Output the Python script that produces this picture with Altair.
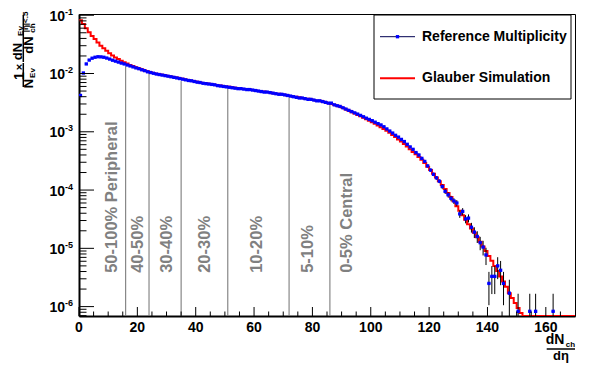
import altair as alt
import pandas as pd
import numpy as np

# ---------------- data ----------------
YMIN, YMAX = 6.9e-7, 0.105
XMIN, XMAX = 0, 170
NEV = 1.2e6  # events: one count = 8.3e-7

# Reference multiplicity, bins of width 1 starting at 0 (0 = empty bin)
blue_vals = [
    0.0042, 0.0102, 0.0146, 0.0170, 0.0183, 0.0190, 0.0194, 0.0193, 0.0190, 0.0184,
    0.0177, 0.0169, 0.0163, 0.0157, 0.0151, 0.0146, 0.0140, 0.0135, 0.0130, 0.0125,
    0.0121, 0.0116, 0.0112, 0.0107, 0.0104, 0.0101, 0.0098, 0.0096, 0.0094, 0.0092,
    0.0090, 0.0088, 0.0086, 0.0084, 0.0082, 0.0080, 0.0078, 0.0076, 0.0075, 0.0073,
    0.0071, 0.0070, 0.0068, 0.0067, 0.0066, 0.0065, 0.0064, 0.0062, 0.0061, 0.0060,
    0.0059, 0.0058, 0.0057, 0.0056, 0.0055, 0.0055, 0.0054, 0.0053, 0.0053, 0.0052,
    0.0051, 0.0050, 0.0049, 0.0048, 0.0048, 0.0047, 0.0046, 0.0045, 0.0044, 0.0044,
    0.0043, 0.0042, 0.0041, 0.0040, 0.0039, 0.0038, 0.0038, 0.0037, 0.0036, 0.0036,
    0.0035, 0.0034, 0.0034, 0.0033, 0.0032, 0.0031, 0.0031, 0.0029, 0.0028, 0.00272,
    0.00258, 0.00245, 0.00233, 0.00222, 0.00211, 0.00201, 0.00191, 0.00181, 0.00171, 0.00163,
    0.00155, 0.00146, 0.00138, 0.00131, 0.00122, 0.00112, 0.00103, 0.00095, 0.00087, 0.00081,
    0.00074, 0.00068, 0.00061, 0.00055, 0.00050, 0.00044, 0.00040, 0.00035, 0.00031, 0.00026,
    0.00022, 0.000186, 0.000162, 0.000142, 0.000115, 0.000095, 8.3e-5, 7.2e-5, 6.5e-5, 6.0e-5,
    3.9e-5, 4.3e-5, 3.2e-5, 3.3e-5, 2.3e-5, 1.9e-5, 1.6e-5, 1.25e-5, 1.05e-5, 7.7e-6,
    2.5e-6, 3.3e-6, 3.3e-6, 5.0e-6, 4.2e-6, 2.5e-6, 0, 1.7e-6, 0, 0,
    8.3e-7, 0, 0, 0, 8.3e-7, 0, 8.3e-7, 0, 0, 0,
    0, 0, 8.3e-7,
]

# Glauber simulation histogram, bins of width 1 from 0 to 170
red_vals = [
    0.082, 0.071, 0.060, 0.051, 0.044, 0.039, 0.034, 0.030, 0.027, 0.0245,
    0.0222, 0.0204, 0.0189, 0.0177, 0.0166, 0.0156, 0.0148, 0.0140, 0.0134, 0.0128,
    0.0123, 0.0118, 0.0113, 0.0109, 0.0105, 0.0102, 0.0099, 0.0097, 0.0095, 0.0093,
    0.0091, 0.0089, 0.0087, 0.0085, 0.0083, 0.0081, 0.0079, 0.0077, 0.0075, 0.0074,
    0.0072, 0.0070, 0.0069, 0.0068, 0.0067, 0.0066, 0.0064, 0.0063, 0.0062, 0.0061,
    0.0060, 0.0059, 0.0058, 0.0057, 0.0056, 0.0055, 0.0054, 0.0054, 0.0053, 0.0052,
    0.0051, 0.0050, 0.0049, 0.0049, 0.0048, 0.0047, 0.0046, 0.0045, 0.0045, 0.0044,
    0.0043, 0.0042, 0.0041, 0.0040, 0.0040, 0.0039, 0.0038, 0.0037, 0.0037, 0.0036,
    0.0035, 0.0034, 0.0034, 0.0033, 0.0032, 0.0031, 0.0030, 0.0029, 0.0028, 0.0027,
    0.00255, 0.00242, 0.00229, 0.00217, 0.00205, 0.00194, 0.00184, 0.00174, 0.00164, 0.00155,
    0.00146, 0.00137, 0.00128, 0.00120, 0.00112, 0.00104, 0.00096, 0.00088, 0.00081, 0.00074,
    0.00068, 0.00062, 0.00056, 0.00050, 0.00045, 0.00041, 0.00037, 0.00033, 0.00029, 0.00025,
    0.00022, 0.000190, 0.000165, 0.000142, 0.000122, 0.000104, 8.9e-5, 7.6e-5, 6.4e-5, 5.3e-5,
    4.4e-5, 3.7e-5, 3.1e-5, 2.6e-5, 2.2e-5, 1.85e-5, 1.55e-5, 1.3e-5, 1.08e-5, 9.0e-6,
    7.4e-6, 6.1e-6, 5.0e-6, 4.1e-6, 3.3e-6, 2.7e-6, 2.2e-6, 1.7e-6, 1.4e-6, 1.15e-6,
    9.5e-7, 7.8e-7, 0, 0, 0, 0, 0, 0, 0, 0,
    0, 0, 0, 0, 0, 0, 0, 0, 0, 0,
]

cent_x = [16, 24, 35, 51, 72, 86]
cent_top = [0.0133, 0.0102, 0.0074, 0.0056, 0.0039, 0.0031]
cent_labels = ["50-100% Peripheral", "40-50%", "30-40%", "20-30%", "10-20%", "5-10%", "0-5% Central"]
cent_label_x = [11.2, 20.3, 30.1, 43.2, 60.9, 78.6, 91.7]
cent_label_y = 3.8e-6

x_major = list(range(0, 161, 20))
x_minor = [v for v in range(5, 170, 5) if v % 20]
y_major_exp = [-6, -5, -4, -3, -2, -1]
y_minor = [k * 10.0 ** e for e in range(-7, -1) for k in range(2, 10)
           if YMIN <= k * 10.0 ** e <= YMAX]

legend_names = ["Reference Multiplicity", "Glauber Simulation"]

# y axis title pieces: 1/N_Ev x dN_Ev / dN_ch^{|eta|<.5}
ytitle_parts = ["1", "N", "Ev", "\u00d7", "dN", "Ev", "dN", "ch", "|\u03b7|<.5"]

# ---------------- layout ----------------
W, H = 496, 302
FONT = "Liberation Sans, Arial, Helvetica, sans-serif"
BLUE = "#0000ff"
RED = "#ff0000"
GRAY = "#707070"

xs = alt.Scale(domain=[XMIN, XMAX], nice=False, zero=False)
ys = alt.Scale(type="log", domain=[YMIN, YMAX], nice=False)

def X(f="x"):
    return alt.X(f"{f}:Q", scale=xs, title=None)

def Y(f="y"):
    return alt.Y(f"{f}:Q", scale=ys, title=None)

# pixel offsets of the title pieces -> data coordinates (outside the frame)
LY0, LY1 = np.log10(YMAX), np.log10(YMIN)
def px2x(px):
    return px * (XMAX - XMIN) / W + XMIN
def py2y(py):
    return 10 ** (LY0 + (LY1 - LY0) * py / H)

one = pd.DataFrame({"a": [0]})

# blue points
bdf = pd.DataFrame({"bin": np.arange(len(blue_vals)), "y": blue_vals})
bdf = bdf[bdf["y"] > 0].copy()
bdf["x"] = bdf["bin"] + 0.5
bdf["x0"] = bdf["bin"]
bdf["x1"] = bdf["bin"] + 1.0
err = np.sqrt(bdf["y"] / NEV)
bdf["lo"] = np.maximum(bdf["y"] - err, YMIN)
bdf["hi"] = bdf["y"] + err

# red histogram
rdf = pd.DataFrame({"x": list(range(len(red_vals))) + [len(red_vals)],
                    "y": [max(v, YMIN) for v in red_vals] + [max(red_vals[-1], YMIN)]})

cdf = pd.DataFrame({"x": cent_x, "y": [YMIN] * len(cent_x), "y2": cent_top})
ldf = pd.DataFrame({"x": cent_label_x, "y": [cent_label_y] * len(cent_label_x), "t": cent_labels})

layers = []

layers.append(alt.Chart(cdf).mark_rule(color=GRAY, strokeWidth=1).encode(
    x=X(), y=Y(), y2="y2:Q"))
layers.append(alt.Chart(ldf).mark_text(angle=270, align="left", baseline="middle",
                                       font=FONT, fontSize=16.5, fontWeight="bold",
                                       color="#808080").encode(x=X(), y=Y(), text="t:N"))

layers.append(alt.Chart(rdf).mark_line(interpolate="step-after", color=RED,
                                       strokeWidth=2, clip=True).encode(x=X(), y=Y()))

layers.append(alt.Chart(bdf).mark_rule(color="black", strokeWidth=1, clip=True).encode(
    x=X(), y=Y("lo"), y2="hi:Q"))
layers.append(alt.Chart(bdf).mark_rule(color=BLUE, strokeWidth=1, clip=True).encode(
    x=X("x0"), x2="x1:Q", y=Y()))
layers.append(alt.Chart(bdf).mark_square(color=BLUE, size=11, opacity=1, clip=True).encode(
    x=X(), y=Y()))

# inward ticks
layers.append(alt.Chart(pd.DataFrame({"x": x_major})).mark_rule(color="black", strokeWidth=1).encode(
    x=X(), y=alt.value(H), y2=alt.value(H - 9)))
layers.append(alt.Chart(pd.DataFrame({"x": x_minor})).mark_rule(color="black", strokeWidth=1).encode(
    x=X(), y=alt.value(H), y2=alt.value(H - 4.5)))
layers.append(alt.Chart(pd.DataFrame({"y": [10.0 ** e for e in y_major_exp]})).mark_rule(
    color="black", strokeWidth=1).encode(y=Y(), x=alt.value(0), x2=alt.value(15)))
layers.append(alt.Chart(pd.DataFrame({"y": y_minor})).mark_rule(
    color="black", strokeWidth=1).encode(y=Y(), x=alt.value(0), x2=alt.value(7.5)))

# tick labels
layers.append(alt.Chart(pd.DataFrame({"x": x_major, "t": [str(v) for v in x_major]})).mark_text(
    baseline="middle", align="center", font=FONT, fontSize=14, fontWeight="bold", color="black"
).encode(x=X(), y=alt.value(H + 12), text="t:N"))
ylab = pd.DataFrame({"y": [10.0 ** e for e in y_major_exp], "e": [str(e) for e in y_major_exp]})
layers.append(alt.Chart(ylab).mark_text(text="10", align="right", baseline="middle", dy=1.5,
                                        font=FONT, fontSize=14, fontWeight="bold", color="black"
                                        ).encode(y=Y(), x=alt.value(-14)))
layers.append(alt.Chart(ylab).mark_text(align="left", baseline="middle", dy=-3.5,
                                        font=FONT, fontSize=9, fontWeight="bold", color="black"
                                        ).encode(y=Y(), x=alt.value(-14), text="e:N"))

# legend
layers.append(alt.Chart(one).mark_rect(fill="white", stroke="black", strokeWidth=1).encode(
    x=alt.value(295), x2=alt.value(492), y=alt.value(1), y2=alt.value(85)))
layers.append(alt.Chart(one).mark_rule(color="#000050", strokeWidth=1).encode(
    x=alt.value(301), x2=alt.value(336), y=alt.value(22.7)))
layers.append(alt.Chart(one).mark_square(color=BLUE, size=11, opacity=1).encode(
    x=alt.value(318.5), y=alt.value(22.7)))
layers.append(alt.Chart(one).mark_rule(color=RED, strokeWidth=2).encode(
    x=alt.value(301), x2=alt.value(336), y=alt.value(64.3)))
for name, yy in zip(legend_names, [22.7, 64.3]):
    layers.append(alt.Chart(one).mark_text(text=name, align="left", baseline="middle",
                                           font=FONT, fontSize=14, fontWeight="bold",
                                           color="black").encode(x=alt.value(343), y=alt.value(yy)))

# y axis title, rotated (reads bottom to top), placed like the centrality labels
ytitle_px = [-59.5, -50.3, -46.5, -59, -61, -58, -50, -46.5, -53.5]
ytitle_py = [62, 69.5, 59, 53, 37.5, 17, 31, 14, 8]
ytitle_fs = [14, 13, 8, 11, 13, 8, 13, 8, 8]
for fs in sorted(set(ytitle_fs)):
    sel = [i for i, f in enumerate(ytitle_fs) if f == fs]
    tdf = pd.DataFrame({"x": [px2x(ytitle_px[i]) for i in sel],
                        "y": [py2y(ytitle_py[i]) for i in sel],
                        "t": [ytitle_parts[i] for i in sel]})
    layers.append(alt.Chart(tdf).mark_text(angle=270, align="center", baseline="middle",
                                           font=FONT, fontSize=fs, fontWeight="bold",
                                           color="black").encode(x=X(), y=Y(), text="t:N"))
fdf = pd.DataFrame({"x": [px2x(-55.7), px2x(-55.7)],
                    "y": [py2y(49), py2y(1)], "y2": [py2y(73), py2y(48)]})
layers.append(alt.Chart(fdf).mark_rule(color="black", strokeWidth=1.5).encode(
    x=X(), y=Y(), y2="y2:Q"))

# x axis title: dN_ch / d eta
def htext(txt, x, y, size):
    return alt.Chart(one).mark_text(text=txt, align="center", baseline="middle",
                                    font=FONT, fontSize=size, fontWeight="bold",
                                    color="black").encode(x=alt.value(x), y=alt.value(y))

layers += [
    htext("dN", 476, 326, 14),
    htext("ch", 491.5, 331, 8),
    htext("d\u03b7", 482, 342, 13),
]
layers.append(alt.Chart(one).mark_rule(color="black", strokeWidth=1.5).encode(
    x=alt.value(467.7), x2=alt.value(496), y=alt.value(335)))

chart = alt.layer(*layers).properties(
    width=W, height=H,
    autosize=alt.AutoSizeParams(type="none"),
    padding={"left": 71, "top": 6, "right": 13, "bottom": 48},
    background="white",
).configure_view(stroke="black", strokeWidth=1).configure_axis(
    labels=False, ticks=False, grid=False, domainColor="black", domainWidth=2
)

chart.save("out.html", embed_options={"renderer": "svg", "actions": False})
